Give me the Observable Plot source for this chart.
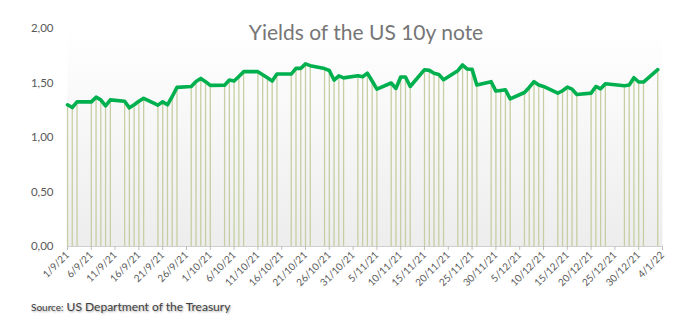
<!DOCTYPE html>
<html>
<head>
<meta charset="utf-8">
<script src="https://cdn.jsdelivr.net/npm/d3@7"></script>
<script src="https://cdn.jsdelivr.net/npm/@observablehq/plot@0.6"></script>
<style>
  html, body { margin: 0; padding: 0; background: #ffffff; }
  #wrap { position: relative; width: 674px; height: 326px; overflow: hidden; font-family: Lato, "Open Sans", sans-serif; }
  #chart { position: absolute; left: 0; top: 0; }
  #title { position: absolute; left: 58px; width: 616px; top: 18px; text-align: center; font-size: 21px; color: #767676; line-height: 28px; }
  #caption { position: absolute; left: 31px; top: 299px; font-size: 12px; color: #3f3f3f; text-shadow: 1px 1px 2px rgba(0,0,0,0.35); }
  #caption .small { font-size: 10px; }
</style>
</head>
<body>
<div id="wrap">
  <div id="chart"></div>
  <div id="title">Yields of the US 10y note</div>
  <div id="caption"><span class="small">Source:</span> US Department of the Treasury</div>
</div>
<script>
// Dates of the observations (business days)
const dates = [
  "2021-09-01","2021-09-02","2021-09-03","2021-09-06","2021-09-07","2021-09-08","2021-09-09","2021-09-10",
  "2021-09-13","2021-09-14","2021-09-15","2021-09-16","2021-09-17",
  "2021-09-20","2021-09-21","2021-09-22","2021-09-23","2021-09-24",
  "2021-09-27","2021-09-28","2021-09-29","2021-09-30","2021-10-01",
  "2021-10-04","2021-10-05","2021-10-06","2021-10-07","2021-10-08",
  "2021-10-11","2021-10-12","2021-10-13","2021-10-14","2021-10-15",
  "2021-10-18","2021-10-19","2021-10-20","2021-10-21","2021-10-22",
  "2021-10-25","2021-10-26","2021-10-27","2021-10-28","2021-10-29",
  "2021-11-01","2021-11-02","2021-11-03","2021-11-04","2021-11-05",
  "2021-11-08","2021-11-09","2021-11-10","2021-11-11","2021-11-12",
  "2021-11-15","2021-11-16","2021-11-17","2021-11-18","2021-11-19",
  "2021-11-22","2021-11-23","2021-11-24","2021-11-25","2021-11-26",
  "2021-11-29","2021-11-30","2021-12-01","2021-12-02","2021-12-03",
  "2021-12-06","2021-12-07","2021-12-08","2021-12-09","2021-12-10",
  "2021-12-13","2021-12-14","2021-12-15","2021-12-16","2021-12-17",
  "2021-12-20","2021-12-21","2021-12-22","2021-12-23",
  "2021-12-27","2021-12-28","2021-12-29","2021-12-30","2021-12-31",
  "2022-01-03"
];
// 10y yields (%)
const yields = [
  1.30,1.275,1.327,1.327,1.37,1.345,1.29,1.345,
  1.333,1.272,1.30,1.333,1.36,
  1.297,1.327,1.30,1.376,1.46,
  1.468,1.514,1.542,1.512,1.478,
  1.48,1.527,1.518,1.56,1.604,
  1.604,1.576,1.548,1.518,1.582,
  1.582,1.634,1.634,1.675,1.659,
  1.632,1.615,1.527,1.565,1.547,
  1.567,1.558,1.59,1.518,1.444,
  1.50,1.45,1.555,1.555,1.468,
  1.622,1.616,1.59,1.579,1.53,
  1.613,1.665,1.628,1.625,1.481,
  1.512,1.426,1.432,1.438,1.355,
  1.413,1.459,1.512,1.481,1.468,
  1.407,1.429,1.462,1.444,1.395,
  1.407,1.468,1.447,1.493,
  1.475,1.481,1.548,1.509,1.509,
  1.622
];
// Axis ticks
const xTicks = [
  "2021-09-01","2021-09-06","2021-09-11","2021-09-16","2021-09-21","2021-09-26",
  "2021-10-01","2021-10-06","2021-10-11","2021-10-16","2021-10-21","2021-10-26","2021-10-31",
  "2021-11-05","2021-11-10","2021-11-15","2021-11-20","2021-11-25","2021-11-30",
  "2021-12-05","2021-12-10","2021-12-15","2021-12-20","2021-12-25","2021-12-30",
  "2022-01-04"
];
const yTicks = [0, 0.5, 1, 1.5, 2];
const xDomain = ["2021-09-01", "2022-01-04"];

const parse = d3.utcParse("%Y-%m-%d");
const data = dates.map((d, i) => ({date: parse(d), value: yields[i]}));
const fmtDate = d => `${d.getUTCDate()}/${d.getUTCMonth() + 1}/${String(d.getUTCFullYear()).slice(2)}`;

const svg = Plot.plot({
  width: 674,
  height: 326,
  marginTop: 28,
  marginBottom: 80,
  marginLeft: 67,
  marginRight: 12,
  style: {fontFamily: "Lato, 'Open Sans', sans-serif", background: "transparent"},
  x: {type: "utc", domain: xDomain.map(parse), label: null},
  y: {domain: [0, 2], label: null},
  marks: [
    Plot.frame({fill: "url(#plotbg)", stroke: "none"}),
    Plot.ruleX(data, {x: "date", y1: 0, y2: "value", stroke: "#c5cfa3", strokeWidth: 1.3}),
    Plot.ruleY([0], {stroke: "#cfcfcf", strokeWidth: 1}),
    Plot.lineY(data, {x: "date", y: "value", stroke: "#00b04f", strokeWidth: 3.6, strokeLinejoin: "round", strokeLinecap: "round"}),
    Plot.axisY({ticks: yTicks, tickFormat: d => d.toFixed(2).replace(".", ","), tickSize: 0, tickPadding: 14, fontSize: 11.5, fill: "#595959", label: null}),
    Plot.axisX({ticks: xTicks.map(parse), tickFormat: fmtDate, tickRotate: -45, tickSize: 4, tickPadding: 3, fontSize: 10, fill: "#595959", stroke: "#bfbfbf", label: null})
  ]
});

const defs = d3.select(svg).insert("defs", ":first-child");
const grad = defs.append("linearGradient").attr("id", "plotbg").attr("x1", 0).attr("y1", 0).attr("x2", 0).attr("y2", 1);
grad.append("stop").attr("offset", "0%").attr("stop-color", "#ffffff");
grad.append("stop").attr("offset", "100%").attr("stop-color", "#ededed");

document.getElementById("chart").appendChild(svg);
</script>
</body>
</html>
